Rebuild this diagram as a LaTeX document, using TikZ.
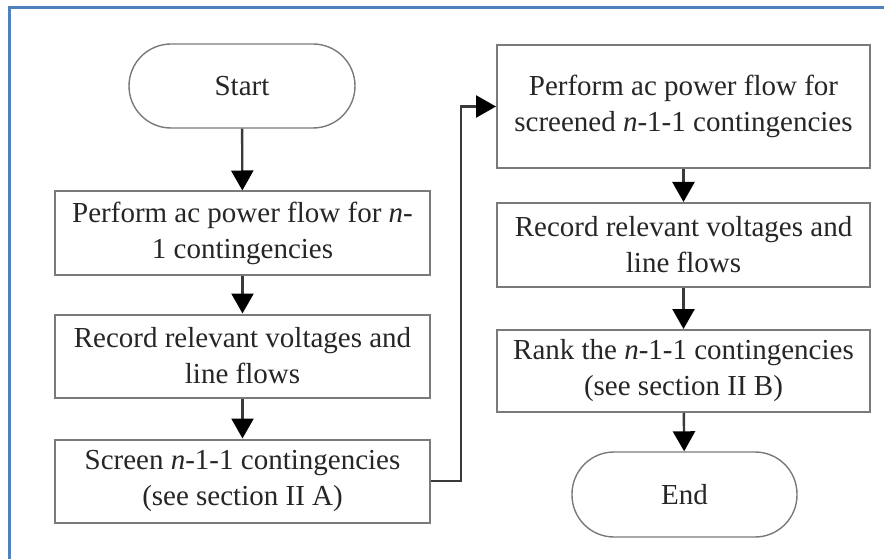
\documentclass[tikz,border=0pt]{standalone}
\usepackage{fontspec}
\setmainfont{Liberation Serif}
\usetikzlibrary{arrows.meta}
\definecolor{framebl}{HTML}{4F81BD}
\definecolor{boxgray}{HTML}{7A7A7A}
\definecolor{linkgray}{HTML}{3A3A3A}
\begin{document}
\begin{tikzpicture}[x=1pt,y=-1pt,
  every node/.style={font=\fontsize{29}{36}\selectfont, text=black!85, align=center, inner sep=0pt},
  procbox/.style={draw=boxgray, line width=2pt, minimum width=375pt, minimum height=83pt},
  termbox/.style={draw=boxgray, line width=1.4pt, rounded corners=42pt, minimum width=226pt, minimum height=84pt},
  link/.style={draw=linkgray, line width=2.4pt, -{Triangle[length=20pt,width=22pt,color=black]}}]
  % page area and the blue frame along the top and left edges
  \useasboundingbox (0,0) rectangle (884,559);
  \fill[white] (0,0) rectangle (884,559);
  \draw[framebl, line width=3pt] (9,559) -- (9,8) -- (884,8);

  % left column
  \node[termbox] (start) at (242,86) {Start};
  \node[procbox] (pf1) at (242.5,233) {Perform ac power flow for \textit{n}-\\1 contingencies};
  \node[procbox] (rec1) at (242.5,356) {Record relevant voltages and\\line flows};
  \node[procbox] (scr) at (242.5,481) {Screen \textit{n}-1-1 contingencies\\(see section II A)};

  % right column
  \node[procbox, minimum width=373pt, minimum height=123pt] (pf2) at (683.5,106.5) {Perform ac power flow for\\screened \textit{n}-1-1 contingencies};
  \node[procbox, minimum width=373pt, minimum height=84pt] (rec2) at (683.5,245) {Record relevant voltages and\\line flows};
  \node[procbox, minimum width=373pt, minimum height=82pt] (rank) at (683.5,371) {Rank the \textit{n}-1-1 contingencies\\(see section II B)};
  \node[termbox, minimum width=225pt, minimum height=85pt] (end) at (684.5,494.5) {End};

  % connectors
  \draw[link] (start) -- (pf1);
  \draw[link] (pf1) -- (rec1);
  \draw[link] (rec1) -- (scr);
  \coordinate (jog) at (461,481);
  \draw[link] (scr.east) -- (jog) |- (pf2.west);
  \draw[link] (pf2) -- (rec2);
  \draw[link] (rec2) -- (rank);
  \draw[link] (rank) -- (end);
\end{tikzpicture}
\end{document}
